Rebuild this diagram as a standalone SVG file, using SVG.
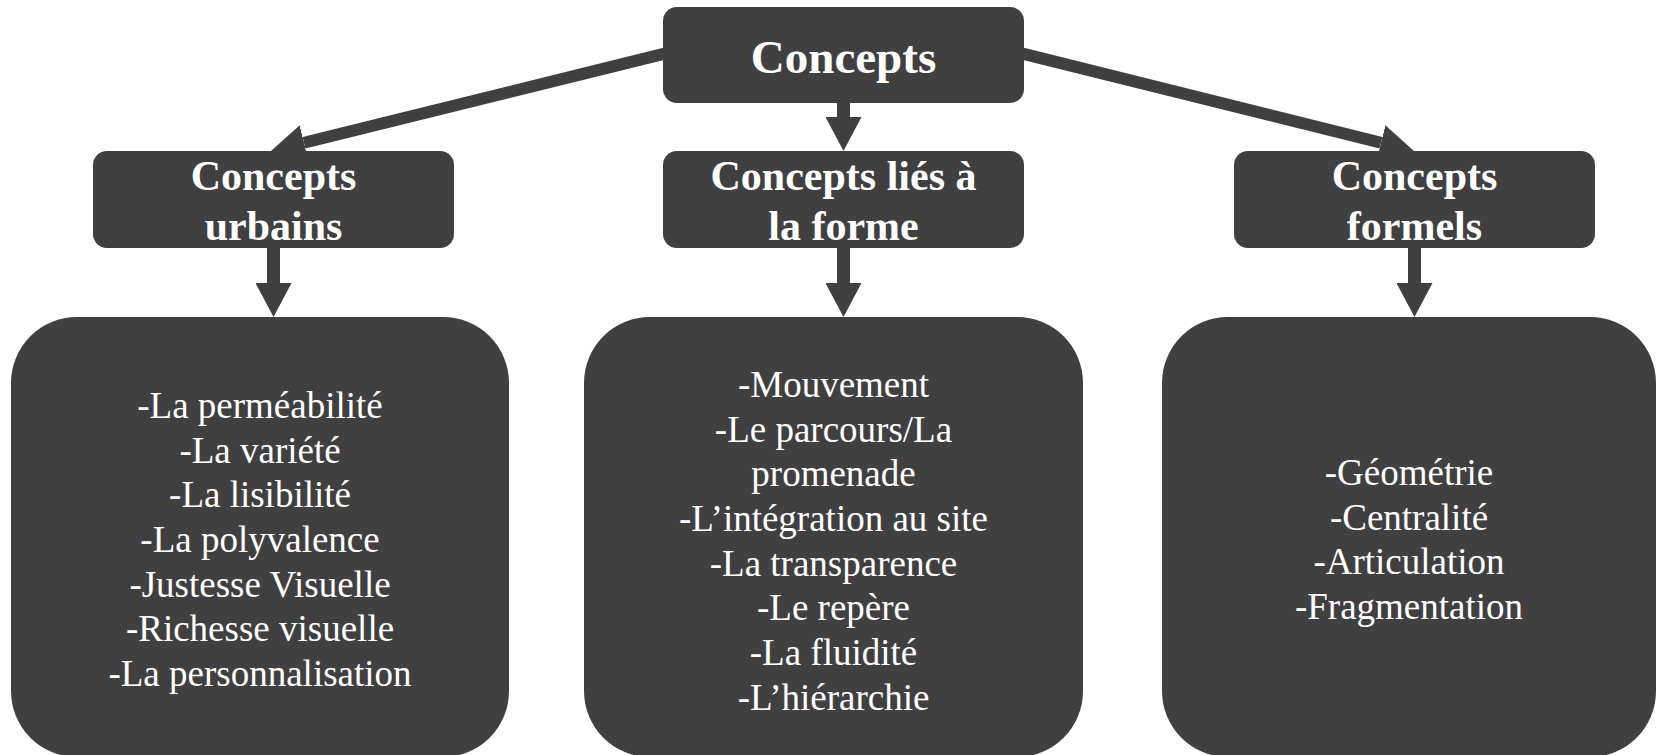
<svg xmlns="http://www.w3.org/2000/svg" width="1656" height="755" viewBox="0 0 1656 755">
<style>
.box{fill:#404040}
.hd{font-family:"Liberation Serif","Times New Roman",serif;font-weight:bold;fill:#fff;text-anchor:middle}
.tx{font-family:"Liberation Serif","Times New Roman",serif;font-size:37px;fill:#fff;text-anchor:middle}
.cn{stroke:#404040;fill:none;stroke-linecap:butt}
</style>
<defs>
<marker id="ah" markerUnits="userSpaceOnUse" markerWidth="34" markerHeight="36" refX="0" refY="18" orient="auto" viewBox="0 0 34 36">
<path d="M0,0 L34,18 L0,36 Z" fill="#404040"/>
</marker>
</defs>
<rect width="1656" height="755" fill="#fff"/>
<g id="connectors">
<line class="cn" x1="700" y1="44.9" x2="304" y2="142.8" stroke-width="12" marker-end="url(#ah)"/>
<line class="cn" x1="987" y1="44.8" x2="1381" y2="142.8" stroke-width="12" marker-end="url(#ah)"/>
<line class="cn" x1="843.5" y1="100" x2="843.5" y2="117" stroke-width="13" marker-end="url(#ah)"/>
<line class="cn" x1="273.5" y1="245" x2="273.5" y2="283" stroke-width="13" marker-end="url(#ah)"/>
<line class="cn" x1="843.5" y1="245" x2="843.5" y2="283" stroke-width="13" marker-end="url(#ah)"/>
<line class="cn" x1="1414.5" y1="245" x2="1414.5" y2="283" stroke-width="13" marker-end="url(#ah)"/>
</g>
<g id="concepts">
<rect class="box" x="663" y="7" width="361" height="96" rx="14"/>
<text class="hd" x="843.5" y="73" font-size="47">Concepts</text>
</g>
<g id="urbains">
<rect class="box" x="93" y="151" width="361" height="97" rx="14"/>
<text class="hd" x="273.5" y="190" font-size="42">Concepts</text>
<text class="hd" x="273.5" y="240" font-size="42">urbains</text>
</g>
<g id="forme">
<rect class="box" x="663" y="151" width="361" height="97" rx="14"/>
<text class="hd" x="843.5" y="190" font-size="42">Concepts liés à</text>
<text class="hd" x="843.5" y="240" font-size="42">la forme</text>
</g>
<g id="formels">
<rect class="box" x="1234" y="151" width="361" height="97" rx="14"/>
<text class="hd" x="1414.5" y="190" font-size="42">Concepts</text>
<text class="hd" x="1414.5" y="240" font-size="42">formels</text>
</g>
<g id="liste-urbains">
<rect class="box" x="11" y="317" width="498" height="440" rx="66"/>
<text class="tx" x="260" y="418">-La perméabilité</text>
<text class="tx" x="260" y="463">-La variété</text>
<text class="tx" x="260" y="507">-La lisibilité</text>
<text class="tx" x="260" y="552">-La polyvalence</text>
<text class="tx" x="260" y="597">-Justesse Visuelle</text>
<text class="tx" x="260" y="641">-Richesse visuelle</text>
<text class="tx" x="260" y="686">-La personnalisation</text>
</g>
<g id="liste-forme">
<rect class="box" x="584" y="317" width="499" height="440" rx="66"/>
<text class="tx" x="833.5" y="397">-Mouvement</text>
<text class="tx" x="833.5" y="442">-Le parcours/La</text>
<text class="tx" x="833.5" y="486">promenade</text>
<text class="tx" x="833.5" y="531">-L’intégration au site</text>
<text class="tx" x="833.5" y="576">-La transparence</text>
<text class="tx" x="833.5" y="620">-Le repère</text>
<text class="tx" x="833.5" y="665">-La fluidité</text>
<text class="tx" x="833.5" y="710">-L’hiérarchie</text>
</g>
<g id="liste-formels">
<rect class="box" x="1162" y="317" width="494" height="440" rx="66"/>
<text class="tx" x="1409" y="485">-Géométrie</text>
<text class="tx" x="1409" y="530">-Centralité</text>
<text class="tx" x="1409" y="574">-Articulation</text>
<text class="tx" x="1409" y="619">-Fragmentation</text>
</g>
</svg>
